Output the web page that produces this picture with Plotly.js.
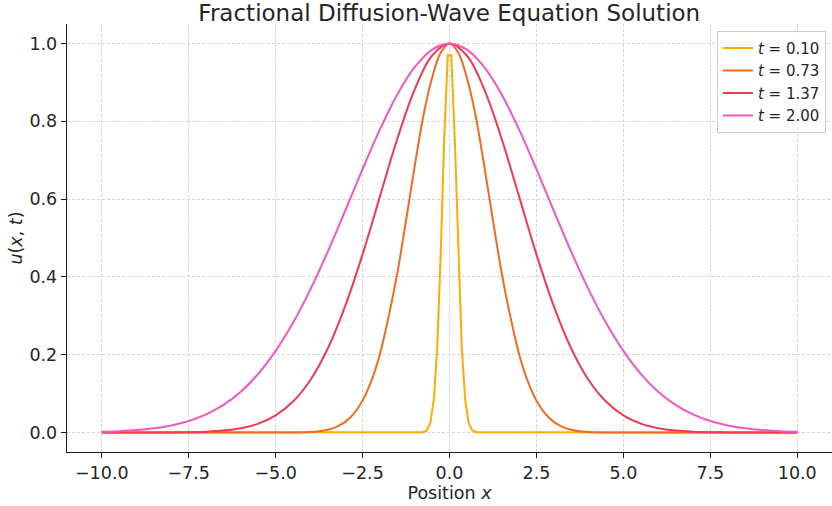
<!DOCTYPE html>
<html>
<head>
<meta charset="utf-8">
<script src="https://cdn.plot.ly/plotly-3.0.1.min.js"></script>
<style>
  html, body { margin: 0; padding: 0; background: #ffffff; }
  #chart { width: 832px; height: 506px; }
</style>
</head>
<body>
<div id="chart"></div>
<script>
// ---- data ----
const seriesLabels = ["t = 0.10", "t = 0.73", "t = 1.37", "t = 2.00"];

const xNarrow = [-10, -0.75, -0.65, -0.55, -0.45, -0.35, -0.25, -0.15, -0.05,
                 0.05, 0.15, 0.25, 0.35, 0.45, 0.55, 0.65, 0.75, 10];
const uT010 = [0, 0.001, 0.006, 0.025, 0.085, 0.224, 0.467, 0.760, 0.970,
               0.970, 0.760, 0.467, 0.224, 0.085, 0.025, 0.006, 0.001, 0];

const xT073 = [-10, -6, -5, -4.5, -4, -3.75, -3.5, -3.25, -3, -2.75, -2.5, -2.25, -2, -1.75, -1.5,
               -1.25, -1, -0.75, -0.5, -0.25, 0, 0.25, 0.5, 0.75, 1, 1.25, 1.5, 1.75, 2,
               2.25, 2.5, 2.75, 3, 3.25, 3.5, 3.75, 4, 4.5, 5, 6, 10];
const uT073 = [0, 0, 0, 0.0003, 0.0017, 0.0036, 0.0074, 0.0146, 0.0273, 0.0486, 0.082, 0.132, 0.202, 0.298, 0.410,
               0.545, 0.685, 0.815, 0.912, 0.977, 1.000, 0.977, 0.912, 0.815, 0.685, 0.545, 0.410, 0.298, 0.202,
               0.132, 0.082, 0.0486, 0.0273, 0.0146, 0.0074, 0.0036, 0.0017, 0.0003, 0, 0, 0];

const xWide = [-10, -9.5, -9, -8.5, -8, -7.5, -7, -6.5, -6, -5.5, -5, -4.5, -4, -3.5, -3, -2.5, -2, -1.5, -1, -0.5,
               0, 0.5, 1, 1.5, 2, 2.5, 3, 3.5, 4, 4.5, 5, 5.5, 6, 6.5, 7, 7.5, 8, 8.5, 9, 9.5, 10];
const uT137 = [0, 0, 0, 0.0001, 0.0003, 0.0009, 0.0022, 0.0051, 0.0111, 0.0228, 0.0439, 0.0796, 0.135, 0.216, 0.325, 0.458, 0.607, 0.755, 0.882, 0.969,
               1.000, 0.969, 0.882, 0.755, 0.607, 0.458, 0.325, 0.216, 0.135, 0.0796, 0.0439, 0.0228, 0.0111, 0.0051, 0.0022, 0.0009, 0.0003, 0.0001, 0, 0, 0];
const uT200 = [0.0019, 0.0036, 0.0063, 0.0109, 0.0183, 0.0297, 0.0468, 0.0713, 0.105, 0.151, 0.210, 0.282, 0.368, 0.465, 0.570, 0.677, 0.779, 0.869, 0.939, 0.984,
               1.000, 0.984, 0.939, 0.869, 0.779, 0.677, 0.570, 0.465, 0.368, 0.282, 0.210, 0.151, 0.105, 0.0713, 0.0468, 0.0297, 0.0183, 0.0109, 0.0063, 0.0036, 0.0019];

const xTicks = [-10, -7.5, -5, -2.5, 0, 2.5, 5, 7.5, 10];
const yTicks = [0, 0.2, 0.4, 0.6, 0.8, 1.0];

// ---- styling ----
const colors = ["#ffab00", "#f26b21", "#f03a55", "#f556c3"];
const FONT = "DejaVu Sans, sans-serif";
const TXT = "#262626";

function legendName(s) {
  return "<i>t</i>" + s.slice(1);
}

const traces = [
  {x: xNarrow, y: uT010, shape: "linear"},
  {x: xT073, y: uT073, shape: "spline"},
  {x: xWide, y: uT137, shape: "spline"},
  {x: xWide, y: uT200, shape: "spline"}
].map((d, i) => ({
  type: "scatter",
  mode: "lines",
  x: d.x,
  y: d.y,
  name: legendName(seriesLabels[i]),
  line: {color: colors[i], width: 2, shape: d.shape, smoothing: 1.0}
}));

function axisBase() {
  return {
    showgrid: true,
    gridcolor: "#cccccc",
    griddash: "3px,2px",
    gridwidth: 0.8,
    zeroline: false,
    showline: true,
    linecolor: "#1a1a1a",
    linewidth: 1.25,
    ticks: "outside",
    ticklen: 5,
    tickwidth: 1,
    tickcolor: "#1a1a1a",
    tickformat: ".1f",
    tickfont: {family: FONT, size: 17.5, color: TXT}
  };
}

const layout = {
  width: 832,
  height: 506,
  margin: {l: 67, r: 0, t: 24, b: 54},
  paper_bgcolor: "#ffffff",
  plot_bgcolor: "#ffffff",
  font: {family: FONT, color: TXT, size: 16},
  title: {
    text: "Fractional Diffusion-Wave Equation Solution",
    font: {family: FONT, size: 23, color: TXT},
    x: 0.54, xanchor: "center",
    y: 0.975, yref: "container", yanchor: "middle"
  },
  xaxis: Object.assign(axisBase(), {
    range: [-11, 11],
    tickvals: xTicks,
    title: {text: "Position <i>x</i>", font: {family: FONT, size: 17.5, color: TXT}, standoff: 1}
  }),
  yaxis: Object.assign(axisBase(), {
    range: [-0.05, 1.05],
    tickvals: yTicks,
    title: {text: "<i>u</i>(<i>x</i>, <i>t</i>)", font: {family: FONT, size: 17.5, color: TXT}, standoff: 2}
  }),
  showlegend: true,
  legend: {
    x: 0.992, xanchor: "right",
    y: 0.984, yanchor: "top",
    bgcolor: "rgba(255,255,255,0.85)",
    bordercolor: "#cccccc",
    borderwidth: 1,
    font: {family: FONT, size: 15, color: TXT},
    tracegroupgap: 0
  }
};

Plotly.newPlot("chart", traces, layout, {displayModeBar: false, staticPlot: true});
</script>
</body>
</html>
